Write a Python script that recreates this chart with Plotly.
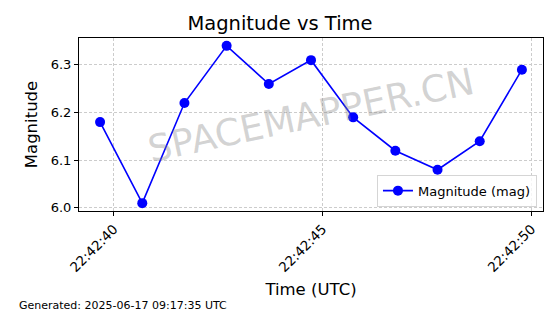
import plotly.graph_objects as go

times = ["2025-06-16 22:42:39.670", "2025-06-16 22:42:40.680", "2025-06-16 22:42:41.690",
         "2025-06-16 22:42:42.700", "2025-06-16 22:42:43.710", "2025-06-16 22:42:44.720",
         "2025-06-16 22:42:45.730", "2025-06-16 22:42:46.740", "2025-06-16 22:42:47.750",
         "2025-06-16 22:42:48.760", "2025-06-16 22:42:49.770"]
magnitudes = [6.18, 6.01, 6.22, 6.34, 6.26, 6.31, 6.19, 6.12, 6.08, 6.14, 6.29]
tick_vals = ["2025-06-16 22:42:40", "2025-06-16 22:42:45", "2025-06-16 22:42:50"]
tick_text = ["22:42:40", "22:42:45", "22:42:50"]

F = "DejaVu Sans"
L, R, T, B = 79, 17, 38, 103
W, H = 560, 314
pw, ph = W - L - R, H - T - B

fig = go.Figure()
fig.add_trace(go.Scatter(x=times, y=magnitudes, mode="lines+markers",
                         name="Magnitude (mag)",
                         line=dict(color="#0000ff", width=1.6),
                         marker=dict(color="#0000ff", size=10)))

fig.update_layout(
    width=W, height=H,
    margin=dict(l=L, r=R, t=T, b=B),
    paper_bgcolor="white", plot_bgcolor="white",
    font=dict(family=F, color="black"),
    title=dict(text="Magnitude vs Time", x=0.5, xanchor="center", y=1 - 23 / H, yanchor="middle",
               font=dict(family=F, size=19.5, color="black")),
    showlegend=True,
    legend=dict(x=0.987, y=0.025, xanchor="right", yanchor="bottom",
                bgcolor="rgba(255,255,255,0.8)", bordercolor="#d5d5d5", borderwidth=1,
                font=dict(family=F, size=13)),
    xaxis=dict(range=["2025-06-16 22:42:39.165", "2025-06-16 22:42:50.275"],
               tickvals=tick_vals, ticktext=tick_text, tickangle=-45,
               tickfont=dict(family=F, size=13.5),
               showgrid=True, gridcolor="#cccccc", griddash="3px,2px", gridwidth=1,
               showline=True, linecolor="black", linewidth=1, mirror=True,
               ticks="outside", ticklen=4, tickcolor="black",
               title=dict(text="Time (UTC)", font=dict(family=F, size=16.5), standoff=9),
               zeroline=False),
    yaxis=dict(range=[5.9935, 6.3565], tickvals=[6.0, 6.1, 6.2, 6.3],
               ticktext=["6.0", "6.1", "6.2", "6.3"],
               tickfont=dict(family=F, size=13),
               showgrid=True, gridcolor="#cccccc", griddash="3px,2px", gridwidth=1,
               showline=True, linecolor="black", linewidth=1, mirror=True,
               ticks="outside", ticklen=4, tickcolor="black",
               title=dict(text="Magnitude", font=dict(family=F, size=16.5), standoff=8),
               zeroline=False),
)

fig.add_annotation(text="SPACEMAPPER.CN", xref="paper", yref="paper", x=0.50, y=0.55,
                   showarrow=False, textangle=-12,
                   font=dict(family=F, size=37, color="rgba(128,128,128,0.35)"))
fig.add_annotation(text="Generated: 2025-06-17 09:17:35 UTC", xref="paper", yref="paper",
                   x=(17 - L) / pw, y=-(305 - (H - B)) / ph, xanchor="left", yanchor="middle",
                   showarrow=False, font=dict(family=F, size=11, color="black"))

fig.write_html("out.html")
